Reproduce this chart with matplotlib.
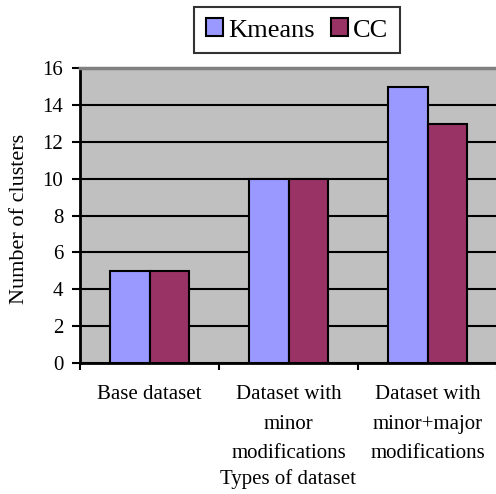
import numpy as np
import matplotlib
matplotlib.use("Agg")
import matplotlib.pyplot as plt
from matplotlib.patches import Patch

# chart data
categories = ["Base dataset", "Dataset with\nminor\nmodifications",
              "Dataset with\nminor+major\nmodifications"]
kmeans = [5, 10, 15]
cc = [5, 10, 13]
y_ticks = [0, 2, 4, 6, 8, 10, 12, 14, 16]

plt.rcParams['font.family'] = ['Liberation Serif', 'DejaVu Serif']

fig = plt.figure(figsize=(4.96, 4.94), dpi=100)
W, H = 496.0, 494.0
# plot area in pixels: x 80..497, y 68..363
ax = fig.add_axes([80 / W, (H - 363) / H, 417 / W, (363 - 68.3) / H])
ax.set_facecolor('#C0C0C0')

x = np.arange(len(categories))
bw = 0.285
ax.bar(x - bw / 2, kmeans, bw, color='#9999FF', edgecolor='black',
       linewidth=1.5, zorder=3)
ax.bar(x + bw / 2, cc, bw, color='#993366', edgecolor='black',
       linewidth=1.5, zorder=3)

ax.set_xlim(-0.5, len(categories) - 0.5)
ax.set_ylim(0, 16)
ax.set_yticks(y_ticks)
ax.set_yticklabels([str(v) for v in y_ticks], fontsize=15)

# category labels at centres, ticks on boundaries
ax.set_xticks(x)
ax.set_xticklabels(categories, fontsize=15, linespacing=1.75, va='top')
ax.set_xticks(np.arange(-0.5, len(categories) - 0.4, 1), minor=True)
ax.tick_params(axis='x', which='major', length=0, pad=16)
ax.tick_params(axis='x', which='minor', length=5, width=1.5, color='black')
ax.tick_params(axis='y', length=6, width=1.5, pad=6)

ax.grid(axis='y', color='black', linewidth=1.5, zorder=1)
ax.set_axisbelow(True)

for s in ['left', 'bottom']:
    ax.spines[s].set_linewidth(2)
    ax.spines[s].set_color('black')
ax.spines['top'].set_color('#808080')
ax.spines['top'].set_linewidth(2.5)
ax.spines['right'].set_visible(False)

ax.set_xlabel("Types of dataset", fontsize=15)
ax.xaxis.set_label_coords(0.5, -(479 - 363) / (363 - 68.3), transform=ax.transAxes)
ax.xaxis.label.set_va('center')
ax.set_ylabel("Number of clusters", fontsize=16)
ax.yaxis.set_label_coords(20 / W, 1 - 219 / H, transform=fig.transFigure)
ax.yaxis.label.set_va('center')

handles = [Patch(facecolor='#9999FF', edgecolor='black', linewidth=1.5),
           Patch(facecolor='#993366', edgecolor='black', linewidth=1.5)]
leg = fig.legend(handles, ["Kmeans", "CC"], loc='center', ncol=2,
                 bbox_to_anchor=(297 / W, 1 - 30 / H), fontsize=19,
                 frameon=True, fancybox=False, handlelength=0.65,
                 handleheight=0.65, handletextpad=0.2, columnspacing=0.6,
                 borderpad=0.45, borderaxespad=0)
leg.get_frame().set_edgecolor('black')
leg.get_frame().set_linewidth(1.5)

fig.savefig("out.png", dpi=100)
